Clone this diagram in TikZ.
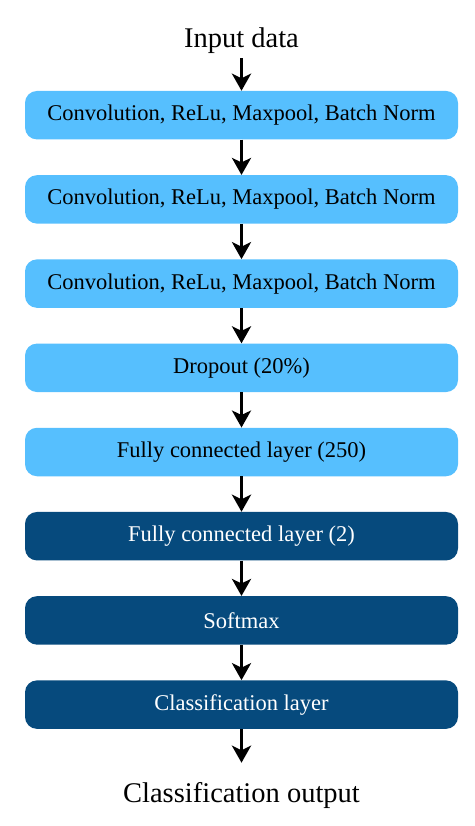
\documentclass[tikz,border=0pt]{standalone}
\usepackage{fontspec}
\setmainfont{Liberation Serif}
\usetikzlibrary{arrows.meta}
\definecolor{lightb}{RGB}{86,191,254}
\definecolor{darkb}{RGB}{6,74,125}
\begin{document}
\begin{tikzpicture}[x=1pt,y=-1pt,
  layer/.style={rounded corners=12pt, minimum width=433pt, minimum height=48.5pt, inner sep=0pt, font=\fontsize{22.5}{26}\selectfont},
  lightlayer/.style={layer, fill=lightb, text=black},
  darklayer/.style={layer, fill=darkb, text=white},
  title/.style={inner sep=0pt, font=\fontsize{28.5}{32}\selectfont},
  flow/.style={line width=3.3pt, -{Stealth[width=19pt,length=17pt,inset=4.5pt]}}
]
\useasboundingbox (0,0) rectangle (474,826);
\node[title, anchor=base] (in) at (241.5,48) {Input data};
\node[lightlayer] (b1) at (241.5,115.2) {Convolution, ReLu, Maxpool, Batch Norm};
\node[lightlayer] (b2) at (241.5,199.4) {Convolution, ReLu, Maxpool, Batch Norm};
\node[lightlayer] (b3) at (241.5,283.6) {Convolution, ReLu, Maxpool, Batch Norm};
\node[lightlayer] (b4) at (241.5,367.8) {Dropout (20\%)};
\node[lightlayer] (b5) at (241.5,452.0) {Fully connected layer (250)};
\node[darklayer] (b6) at (241.5,536.2) {Fully connected layer (2)};
\node[darklayer] (b7) at (241.5,620.4) {Softmax};
\node[darklayer] (b8) at (241.5,704.6) {Classification layer};
\node[title, anchor=base] (out) at (241.5,802) {Classification output};
\draw[flow, shorten <=4pt] (in.south) -- (b1.north);
\draw[flow] (b1.south) -- (b2.north);
\draw[flow] (b2.south) -- (b3.north);
\draw[flow] (b3.south) -- (b4.north);
\draw[flow] (b4.south) -- (b5.north);
\draw[flow] (b5.south) -- (b6.north);
\draw[flow] (b6.south) -- (b7.north);
\draw[flow] (b7.south) -- (b8.north);
\draw[flow, shorten >=19pt] (b8.south) -- (out.north);
\end{tikzpicture}
\end{document}
